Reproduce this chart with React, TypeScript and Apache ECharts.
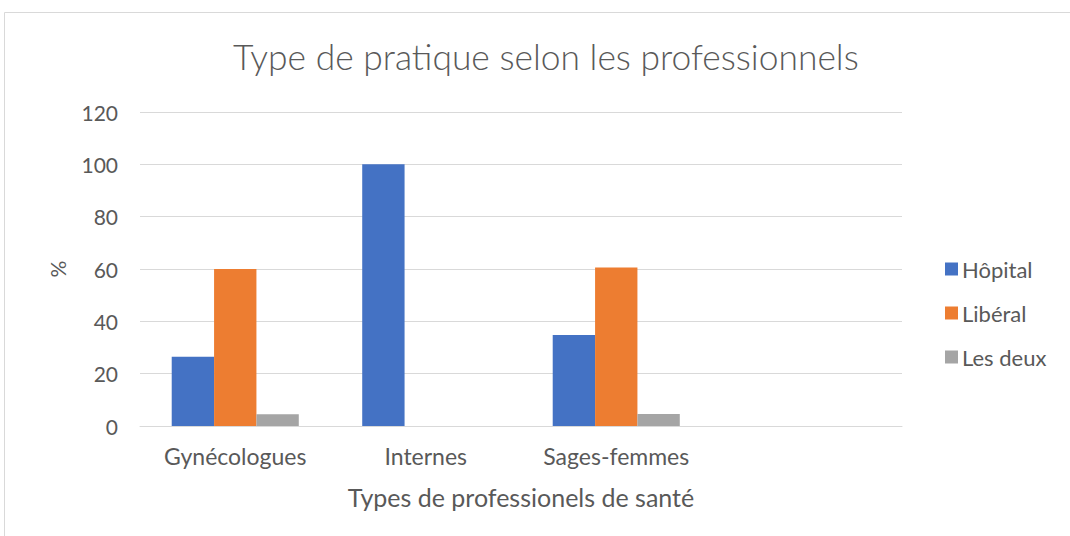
import React, { useEffect, useRef } from "react";
import * as echarts from "echarts";

const categories = ["Gynécologues", "Internes", "Sages-femmes", ""];
const hopital = [26.5, 100, 34.8, null];
const liberal = [60, null, 60.6, null];
const lesDeux = [4.5, null, 4.6, null];
const yTicks = [0, 20, 40, 60, 80, 100, 120];

const FONT = "Lato";
const TXT = "#595959";

export default function App() {
  const ref = useRef<HTMLDivElement>(null);
  useEffect(() => {
    const chart = echarts.init(ref.current!, null, { renderer: "svg" });
    chart.setOption({
      animation: false,
      textStyle: { fontFamily: FONT, color: TXT },
      title: {
        text: "Type de pratique selon les professionnels",
        left: 233,
        top: 39,
        padding: 0,
        textStyle: { fontFamily: FONT, fontWeight: 300, fontSize: 35.4, color: TXT },
      },
      graphic: [
        {
          type: "rect",
          shape: { x: 4.5, y: 12.5, width: 1200, height: 700 },
          style: { fill: "none", stroke: "#d9d9d9", lineWidth: 1 },
          silent: true,
        },
      ],
      legend: {
        orient: "vertical",
        left: 940,
        top: 253,
        itemWidth: 13,
        itemHeight: 13,
        itemGap: 22,
        icon: "rect",
        textStyle: { fontFamily: FONT, fontSize: 22, color: TXT, padding: [0, 0, 0, -1] },
        data: ["Hôpital", "Libéral", "Les deux"],
      },
      grid: { left: 140, right: 168, top: 112, bottom: 110, containLabel: false },
      xAxis: {
        type: "category",
        data: categories,
        name: "Types de professionels de santé",
        nameLocation: "middle",
        nameGap: 58,
        nameTextStyle: { fontFamily: FONT, fontSize: 25, color: TXT },
        axisLine: { lineStyle: { color: "#d9d9d9", width: 1 } },
        axisTick: { show: false },
        axisLabel: { fontFamily: FONT, fontSize: 23, color: TXT, margin: 18 },
      },
      yAxis: {
        type: "value",
        min: 0,
        max: 120,
        interval: 20,
        name: "%",
        nameLocation: "middle",
        nameGap: 72,
        nameRotate: 90,
        nameTextStyle: { fontFamily: FONT, fontSize: 21, color: TXT },
        axisLine: { show: false },
        axisTick: { show: false },
        splitLine: { lineStyle: { color: "#d9d9d9", width: 1 } },
        axisLabel: {
          fontFamily: FONT,
          fontSize: 21,
          color: TXT,
          margin: 22,
          formatter: (v: number) => (yTicks.includes(v) ? String(v) : ""),
        },
      },
      series: [
        { name: "Hôpital", type: "bar", data: hopital, barGap: "0%", barCategoryGap: "33.3%", itemStyle: { color: "#4472C4" } },
        { name: "Libéral", type: "bar", data: liberal, barGap: "0%", barCategoryGap: "33.3%", itemStyle: { color: "#ED7D31" } },
        { name: "Les deux", type: "bar", data: lesDeux, barGap: "0%", barCategoryGap: "33.3%", itemStyle: { color: "#A5A5A5" } },
      ],
    });
    return () => chart.dispose();
  }, []);
  return (
    <div
      ref={ref}
      style={{ position: "absolute", left: 0, top: 0, width: 1070, height: 536, background: "#fff" }}
    />
  );
}
